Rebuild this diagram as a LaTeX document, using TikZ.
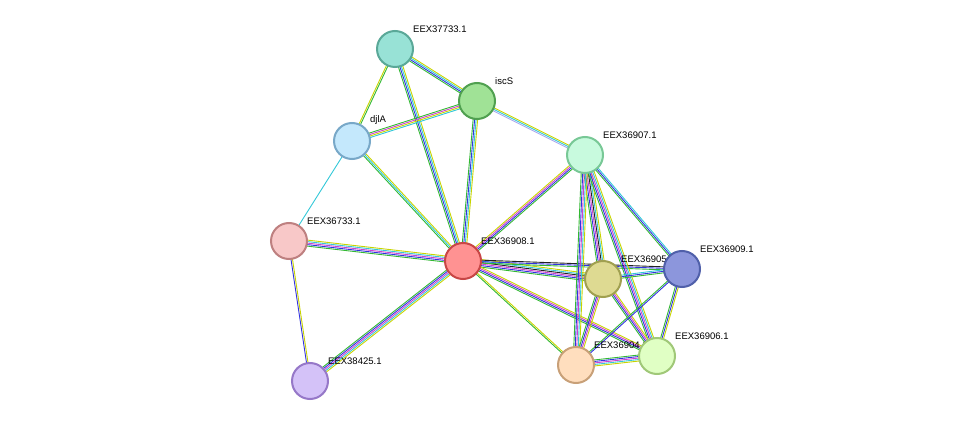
\documentclass[tikz,border=0pt]{standalone}
\usepackage{fontspec}
\setmainfont{Liberation Sans}
\usetikzlibrary{calc}
\definecolor{sg}{HTML}{33B833}
\definecolor{sb}{HTML}{3232E0}
\definecolor{sc}{HTML}{33C8D8}
\definecolor{sy}{HTML}{C8D400}
\definecolor{sm}{HTML}{D040D0}
\definecolor{sk}{HTML}{222222}
\definecolor{sh}{HTML}{A8A8EE}
\tikzset{prot/.style={circle,minimum size=36pt,inner sep=0pt,line width=2pt},
 lbl/.style={font=\fontsize{9.5}{10}\selectfont,anchor=south west,inner sep=0pt}}
\newcommand\edge[3]{%
 \foreach \c [count=\i] in {#3} {\global\let\nn\i}%
 \foreach \c [count=\i] in {#3} {%
  \pgfmathsetmacro\o{(\i-(\nn+1)/2)*1.5}%
  \draw[\c,line width=0.9pt] ($(#1)!\o pt!90:(#2)$) -- ($(#2)!\o pt!-90:(#1)$);}}
\begin{document}
\begin{tikzpicture}[x=1pt,y=-1pt]
\useasboundingbox (0,0) rectangle (976,427);
\coordinate (a) at (395,49);
\coordinate (isc) at (477,101);
\coordinate (dj) at (352,141);
\coordinate (e7) at (585,155);
\coordinate (e33) at (289,241);
\coordinate (e8) at (463,261);
\coordinate (ol) at (603,279);
\coordinate (e9) at (682,269);
\coordinate (e6) at (657,356);
\coordinate (pe) at (576,365);
\coordinate (e25) at (310,381);
\edge{a}{isc}{sg,sb,sc,sy}
\edge{a}{dj}{sy,sg}
\edge{a}{e8}{sg,sb,sc,sy}
\edge{isc}{dj}{sg,sm,sy,sc}
\edge{isc}{e8}{sg,sb,sc,sy}
\edge{isc}{e7}{sh,sc,sy}
\edge{dj}{e8}{sg,sc,sy}
\edge{dj}{e33}{sc}
\edge{e33}{e8}{sg,sb,sm,sc,sy}
\edge{e33}{e25}{sb,sy}
\edge{e8}{e25}{sg,sb,sm,sc,sy}
\edge{e8}{e7}{sg,sb,sm,sy}
\edge{e8}{ol}{sg,sb,sm,sk,sc,sy}
\edge{e8}{e9}{sg,sb,sk}
\edge{e8}{e6}{sg,sb,sm,sy}
\edge{e8}{pe}{sg,sy}
\edge{e7}{ol}{sg,sb,sm,sk,sc,sy}
\edge{e7}{e9}{sg,sb,sc}
\edge{e7}{e6}{sg,sb,sm,sc,sy}
\edge{e7}{pe}{sg,sb,sm,sc,sy}
\edge{ol}{e9}{sg,sb,sc}
\edge{ol}{e6}{sg,sb,sm,sy}
\edge{ol}{pe}{sg,sb,sm,sy}
\edge{e9}{e6}{sg,sb,sy}
\edge{e9}{pe}{sg,sb}
\edge{e6}{pe}{sg,sb,sm,sc,sy}
\node[lbl] at (413,33) {EEX37733.1};
\node[lbl] at (495,85) {iscS};
\node[lbl] at (370,125) {djlA};
\node[lbl] at (603,139) {EEX36907.1};
\node[lbl] at (307,225) {EEX36733.1};
\node[lbl] at (481,245) {EEX36908.1};
\node[lbl] at (621,263) {EEX36905.1};
\node[lbl] at (700,253) {EEX36909.1};
\node[lbl] at (675,340) {EEX36906.1};
\node[lbl] at (594,349) {EEX36904.1};
\node[lbl] at (328,365) {EEX38425.1};
\node[prot,draw={rgb,255:red,90;green,168;blue,152},fill={rgb,255:red,152;green,226;blue,214}] at (a) {};
\node[prot,draw={rgb,255:red,80;green,160;blue,80},fill={rgb,255:red,160;green,226;blue,150}] at (isc) {};
\node[prot,draw={rgb,255:red,120;green,168;blue,200},fill={rgb,255:red,196;green,232;blue,252}] at (dj) {};
\node[prot,draw={rgb,255:red,120;green,200;blue,150},fill={rgb,255:red,200;green,250;blue,222}] at (e7) {};
\node[prot,draw={rgb,255:red,190;green,128;blue,128},fill={rgb,255:red,248;green,200;blue,200}] at (e33) {};
\node[prot,draw={rgb,255:red,200;green,70;blue,70},fill={rgb,255:red,255;green,146;blue,146}] at (e8) {};
\node[prot,draw={rgb,255:red,160;green,160;blue,80},fill={rgb,255:red,222;green,218;blue,146}] at (ol) {};
\node[prot,draw={rgb,255:red,80;green,96;blue,170},fill={rgb,255:red,140;green,150;blue,220}] at (e9) {};
\node[prot,draw={rgb,255:red,160;green,200;blue,120},fill={rgb,255:red,224;green,255;blue,196}] at (e6) {};
\node[prot,draw={rgb,255:red,200;green,160;blue,120},fill={rgb,255:red,255;green,222;blue,190}] at (pe) {};
\node[prot,draw={rgb,255:red,150;green,120;blue,200},fill={rgb,255:red,212;green,194;blue,248}] at (e25) {};
\end{tikzpicture}
\end{document}
